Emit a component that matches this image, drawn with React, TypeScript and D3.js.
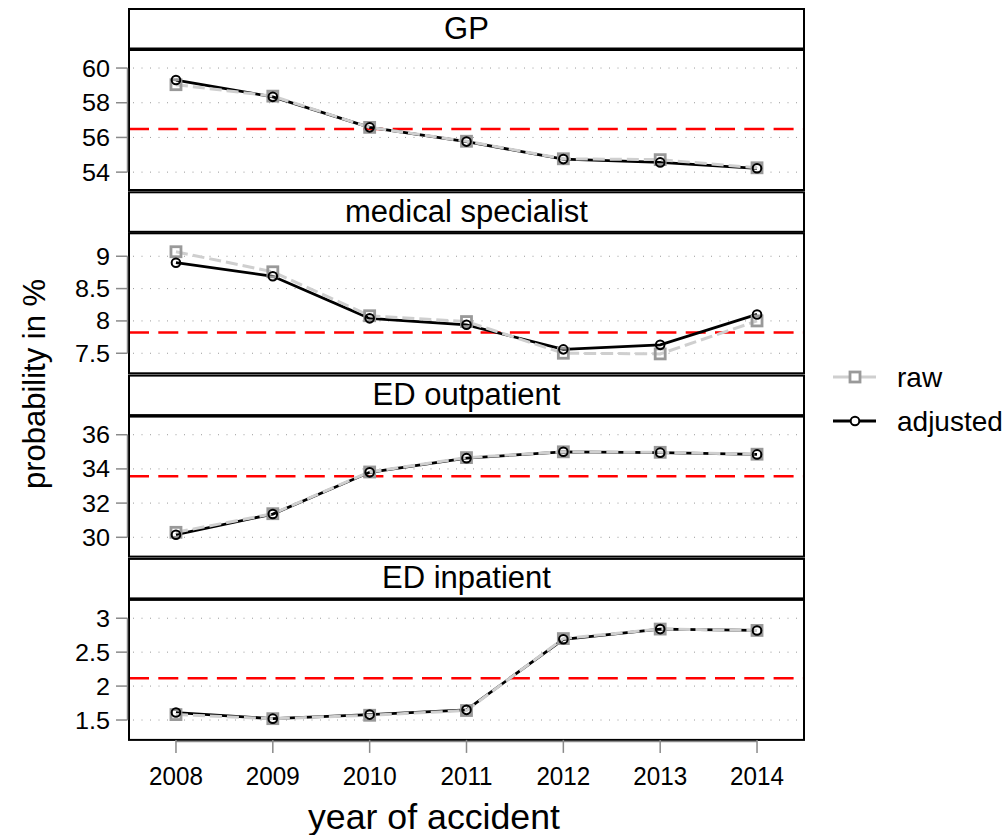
import React from "react";
import * as d3 from "d3";

const years = [2008, 2009, 2010, 2011, 2012, 2013, 2014];
const panelNames = ["GP", "medical specialist", "ED outpatient", "ED inpatient"];

const gpRaw = [59.04, 58.38, 56.58, 55.78, 54.77, 54.72, 54.25];
const gpAdj = [59.31, 58.34, 56.58, 55.76, 54.75, 54.56, 54.22];
const specRaw = [9.07, 8.76, 8.08, 7.99, 7.5, 7.49, 8.0];
const specAdj = [8.9, 8.69, 8.04, 7.94, 7.56, 7.63, 8.1];
const outRaw = [30.29, 31.38, 33.82, 34.66, 35.0, 34.97, 34.86];
const outAdj = [30.15, 31.36, 33.8, 34.63, 35.0, 34.95, 34.85];
const inRaw = [1.58, 1.52, 1.57, 1.64, 2.7, 2.84, 2.82];
const inAdj = [1.61, 1.52, 1.58, 1.65, 2.69, 2.84, 2.82];

const refLines = [56.49, 7.82, 33.57, 2.117];
const yDomains = [
  [52.97, 61.04],
  [7.19, 9.355],
  [28.87, 37.06],
  [1.207, 3.27],
];
const yTicks = [
  [54, 56, 58, 60],
  [7.5, 8, 8.5, 9],
  [30, 32, 34, 36],
  [1.5, 2, 2.5, 3],
];
const yTickLabels = [
  ["54", "56", "58", "60"],
  ["7.5", "8", "8.5", "9"],
  ["30", "32", "34", "36"],
  ["1.5", "2", "2.5", "3"],
];
const rawSeries = [gpRaw, specRaw, outRaw, inRaw];
const adjSeries = [gpAdj, specAdj, outAdj, inAdj];
const legendLabels = ["raw", "adjusted"];

const W = 1007;
const H = 835;
const left = 129;
const right = 804;
const top0 = 9;
const pitch = 183.3;
const stripH = 39.5;
const plotOff = 41;
const plotH = 140;
const FONT = "'Liberation Sans', Arial, Helvetica, sans-serif";

const x = d3.scaleLinear().domain([2007.515, 2014.485]).range([left, right]);

function SText({ x, y, sx = 1, size, anchor = "middle", rotate = 0, children }: any) {
  return (
    <text
      transform={`translate(${x},${y}) rotate(${rotate}) scale(${sx},1)`}
      textAnchor={anchor}
      fontSize={size}
      fontFamily={FONT}
      fill="#000"
    >
      {children}
    </text>
  );
}

function Panel({ i }: { i: number }) {
  const sTop = top0 + i * pitch;
  const pTop = sTop + plotOff;
  const pBot = pTop + plotH;
  const y = d3.scaleLinear().domain(yDomains[i]).range([pBot, pTop]);
  const lineGen = d3
    .line<number>()
    .x((_, k) => x(years[k]))
    .y((v) => y(v));
  const raw = rawSeries[i];
  const adj = adjSeries[i];
  const ticks = yTicks[i];
  return (
    <g>
      {/* strip */}
      <rect x={left} y={sTop} width={right - left} height={stripH} fill="#fff" stroke="#000" strokeWidth={2} />
      <text x={(left + right) / 2} y={sTop + 29.5} textAnchor="middle" fontSize={31} fontFamily={FONT}>
        {panelNames[i]}
      </text>
      {/* plot */}
      <rect x={left} y={pTop} width={right - left} height={plotH} fill="#fff" />
      {ticks.map((t) => (
        <line key={"g" + t} x1={left + 4} x2={right - 2} y1={y(t)} y2={y(t)} stroke="#9a9a9a" strokeWidth={1} strokeDasharray="1 7.5" />
      ))}
      <line x1={left} x2={right} y1={y(refLines[i])} y2={y(refLines[i])} stroke="#ff0000" strokeWidth={2.5} strokeDasharray="20 9.3" />
      <path d={lineGen(adj) || ""} fill="none" stroke="#000" strokeWidth={2.8} />
      <path d={lineGen(raw) || ""} fill="none" stroke="#cfcfcf" strokeWidth={3} strokeDasharray="12 5" />
      {raw.map((v, k) => (
        <rect key={"s" + k} x={x(years[k]) - 5} y={y(v) - 5} width={10} height={10} fill="none" stroke="#999" strokeWidth={2.8} />
      ))}
      {adj.map((v, k) => (
        <circle key={"c" + k} cx={x(years[k])} cy={y(v)} r={4.3} fill="none" stroke="#000" strokeWidth={2} />
      ))}
      <rect x={left} y={pTop} width={right - left} height={plotH} fill="none" stroke="#000" strokeWidth={2} />
      {/* y axis */}
      <line x1={left - 1.5} x2={left - 1.5} y1={y(ticks[ticks.length - 1])} y2={y(ticks[0])} stroke="#8a8a8a" strokeWidth={1.5} />
      {ticks.map((t, k) => (
        <g key={"t" + t}>
          <line x1={left - 13} x2={left - 1.5} y1={y(t)} y2={y(t)} stroke="#8a8a8a" strokeWidth={1.5} />
          <SText x={110} y={y(t) + 8.5} sx={1.05} size={24} anchor="end">
            {yTickLabels[i][k]}
          </SText>
        </g>
      ))}
    </g>
  );
}

export default function App() {
  const bottom = top0 + 3 * pitch + plotOff + plotH;
  return (
    <svg width={W} height={H} style={{ position: "absolute", left: 0, top: 0, background: "#fff" }}>
      <rect x={0} y={0} width={W} height={H} fill="#fff" />
      {panelNames.map((_, i) => (
        <Panel key={i} i={i} />
      ))}
      {/* x axis */}
      <line x1={x(years[0])} x2={x(years[years.length - 1])} y1={bottom + 1.5} y2={bottom + 1.5} stroke="#8a8a8a" strokeWidth={1.5} />
      {years.map((yr) => (
        <g key={yr}>
          <line x1={x(yr)} x2={x(yr)} y1={bottom} y2={bottom + 13} stroke="#8a8a8a" strokeWidth={1.5} />
          <SText x={x(yr)} y={785} sx={0.97} size={25}>
            {String(yr)}
          </SText>
        </g>
      ))}
      <SText x={434} y={829} sx={1.02} size={35}>
        year of accident
      </SText>
      <SText x={45} y={384} sx={1.0} size={31} rotate={-90}>
        probability in %
      </SText>
      {/* legend */}
      <line x1={833} x2={876} y1={377} y2={377} stroke="#cfcfcf" strokeWidth={3} />
      <rect x={850} y={372} width={10} height={10} fill="#fff" stroke="#999" strokeWidth={2.8} />
      <text x={897} y={387} fontSize={28} fontFamily={FONT}>
        {legendLabels[0]}
      </text>
      <line x1={833} x2={876} y1={421} y2={421} stroke="#000" strokeWidth={2.8} />
      <circle cx={855} cy={421} r={4.3} fill="#fff" stroke="#000" strokeWidth={2} />
      <text x={897} y={431} fontSize={28} fontFamily={FONT}>
        {legendLabels[1]}
      </text>
    </svg>
  );
}
